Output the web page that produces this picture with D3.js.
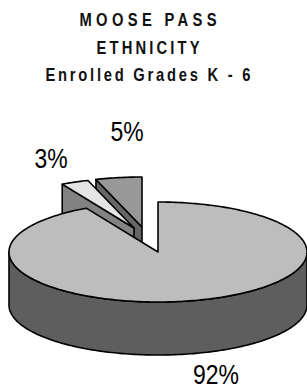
<!DOCTYPE html>
<html>
<head>
<meta charset="utf-8">
<script src="https://cdn.jsdelivr.net/npm/d3@7"></script>
<style>
  body { margin: 0; background: #fff; }
  svg { display: block; }
</style>
</head>
<body>
<svg id="chart" width="307" height="390"></svg>
<script>
// data
const categories = ["White", "Other", "Alaska Native / American Indian"];
const values = [92, 3, 5];
const valueLabels = ["92%", "3%", "5%"];
const titleLines = ["MOOSE PASS", "ETHNICITY", "Enrolled Grades K - 6"];

// look
const topColors = ["#bdbdbd", "#e4e4e4", "#989898"];
const sideColors = ["#5e5e5e", "#828282", "#666666"];
const explodeShift = [[0, 0], [-24, -24], [-16, -25]];
const labelAt = [[216, 384], [51, 168], [127, 141]];
const squeeze = 0.82; // the original type is a narrow face

const cx = 158, cy = 252, rx = 149, ry = 50, depth = 53;

const svg = d3.select("#chart");
const font = "'Liberation Sans', Arial, sans-serif";

// title
const titleWidths = [137, 103, 205];
const titleBase = [26, 54, 81];
svg.selectAll("text.title")
  .data(titleLines)
  .join("text")
  .attr("class", "title")
  .attr("transform", (d, i) => `translate(148,${titleBase[i]}) scale(${squeeze},1)`)
  .attr("text-anchor", "middle")
  .attr("textLength", (d, i) => titleWidths[i] / squeeze)
  .attr("lengthAdjust", "spacing")
  .style("font-family", font)
  .style("font-weight", "bold")
  .style("font-size", "18px")
  .style("fill", "#111")
  .text(d => d);

const pie = d3.pie().sort(null).value(d => d);
const arcs = pie(values);

// projection of the pie onto the page
const pt = (a, ox, oy, z) => [ox + rx * Math.sin(a), oy - ry * Math.cos(a) + z];
const line = d3.line();

function rim(a0, a1, ox, oy, z) {
  const n = Math.max(2, Math.ceil((a1 - a0) / 0.02));
  return d3.range(n + 1).map(i => pt(a0 + (a1 - a0) * i / n, ox, oy, z));
}

const g = svg.append("g")
  .style("stroke", "#000")
  .style("stroke-width", 1.6)
  .style("stroke-linejoin", "round");

// back to front: 5%, 3%, then the big slice
const order = [2, 1, 0];
order.forEach(i => {
  const d = arcs[i];
  const ox = cx + explodeShift[i][0], oy = cy + explodeShift[i][1];
  const a0 = d.startAngle, a1 = d.endAngle;

  // radial faces that face the viewer
  if (Math.sin(a0) < -1e-6) {
    const p = pt(a0, ox, oy, 0), q = pt(a0, ox, oy, depth);
    g.append("path")
      .attr("d", line([[ox, oy], p, q, [ox, oy + depth]]) + "Z")
      .attr("fill", sideColors[i]);
  }
  if (Math.sin(a1) > 1e-6) {
    const p = pt(a1, ox, oy, 0), q = pt(a1, ox, oy, depth);
    g.append("path")
      .attr("d", line([[ox, oy], p, q, [ox, oy + depth]]) + "Z")
      .attr("fill", sideColors[i]);
  }

  // outer wall on the front half
  const s = Math.max(a0, Math.PI / 2), e = Math.min(a1, 3 * Math.PI / 2);
  if (e > s) {
    const topEdge = rim(s, e, ox, oy, 0);
    const botEdge = rim(s, e, ox, oy, depth).reverse();
    g.append("path")
      .attr("d", line(topEdge.concat(botEdge)) + "Z")
      .attr("fill", sideColors[i]);
  }

  // top face
  g.append("path")
    .attr("d", line([[ox, oy]].concat(rim(a0, a1, ox, oy, 0))) + "Z")
    .attr("fill", topColors[i]);
});

// percentage labels
svg.selectAll("text.lbl")
  .data(arcs)
  .join("text")
  .attr("class", "lbl")
  .attr("transform", (d, i) => `translate(${labelAt[i][0]},${labelAt[i][1]}) scale(${squeeze},1)`)
  .attr("text-anchor", "middle")
  .style("font-family", font)
  .style("font-size", "28px")
  .style("fill", "#000")
  .text((d, i) => valueLabels[i]);
</script>
</body>
</html>
